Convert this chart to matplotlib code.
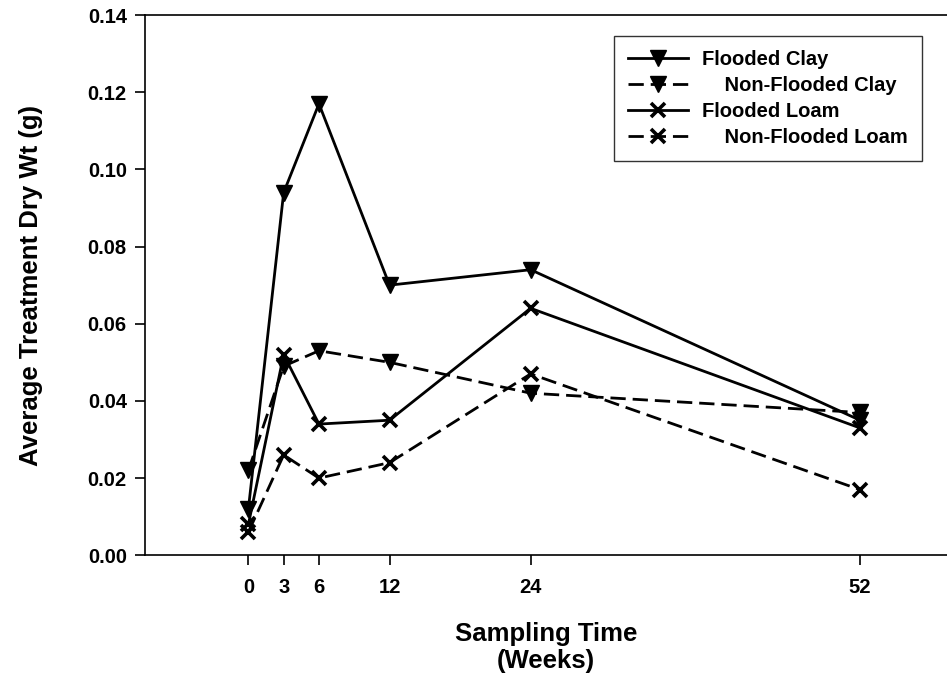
import matplotlib
matplotlib.use("Agg")
import matplotlib.pyplot as plt

# sampling weeks
weeks = [0, 3, 6, 12, 24, 52]

# average treatment dry weight (g)
flooded_clay = [0.012, 0.094, 0.117, 0.070, 0.074, 0.035]
nonflooded_clay = [0.022, 0.049, 0.053, 0.050, 0.042, 0.037]
flooded_loam = [0.008, 0.052, 0.034, 0.035, 0.064, 0.033]
nonflooded_loam = [0.006, 0.026, 0.020, 0.024, 0.047, 0.017]

labels = ["Flooded Clay", "    Non-Flooded Clay", "Flooded Loam", "    Non-Flooded Loam"]
yticks = [0.00, 0.02, 0.04, 0.06, 0.08, 0.10, 0.12, 0.14]

plt.rcParams['font.family'] = ['Liberation Sans', 'DejaVu Sans']
plt.rcParams['font.weight'] = 'bold'

fig = plt.figure(figsize=(9.47, 6.83), dpi=100)
ax = fig.add_axes([0.153, 0.187, 0.847, 0.791])

lw = 2.0
dash = (5.5, 2.5)
ax.plot(weeks, flooded_clay, color="black", lw=lw, marker="v", ms=11, label=labels[0])
ax.plot(weeks, nonflooded_clay, color="black", lw=lw, marker="v", ms=11,
        dashes=dash, label=labels[1])
ax.plot(weeks, flooded_loam, color="black", lw=lw, marker="x", ms=10, mew=2.6,
        label=labels[2])
ax.plot(weeks, nonflooded_loam, color="black", lw=lw, marker="x", ms=10, mew=2.6,
        dashes=dash, label=labels[3])

ax.set_xlim(-8.8, 59.4)
ax.set_ylim(0, 0.14)
ax.set_xticks(weeks)
ax.set_yticks(yticks)
ax.set_yticklabels([f"{v:.2f}" for v in yticks])
ax.tick_params(direction="out", length=7, width=1.2, labelsize=14.5)
ax.tick_params(axis="x", pad=9)
ax.tick_params(axis="y", pad=6)
for lab in ax.get_xticklabels() + ax.get_yticklabels():
    lab.set_fontweight("bold")

ax.spines["right"].set_visible(False)
for s in ["left", "top", "bottom"]:
    ax.spines[s].set_linewidth(1.2)

ax.set_ylabel("Average Treatment Dry Wt (g)", fontsize=18.5, fontweight="bold")
ax.yaxis.set_label_coords(-0.127, 0.5)
ax.set_xlabel("Sampling Time\n(Weeks)", fontsize=18.5, fontweight="bold", linespacing=1.15)
ax.xaxis.set_label_coords(0.5, -0.123)

leg = ax.legend(loc="upper right", bbox_to_anchor=(0.969, 0.961), handlelength=3.0,
                fontsize=14.5, frameon=True, fancybox=False, edgecolor="black",
                borderpad=0.7, labelspacing=0.35, handletextpad=0.7, borderaxespad=0)
leg.get_frame().set_linewidth(1.0)
for t in leg.get_texts():
    t.set_fontweight("bold")

fig.savefig("out.png", dpi=100)
